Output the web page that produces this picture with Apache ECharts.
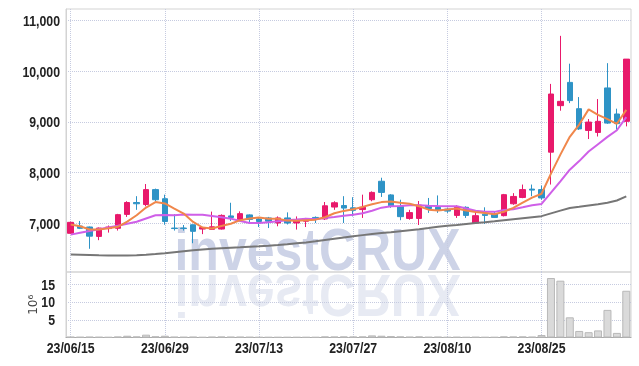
<!DOCTYPE html>
<html><head><meta charset="utf-8">
<script src="https://cdn.jsdelivr.net/npm/echarts@6/dist/echarts.min.js"></script>
<style>html,body{margin:0;padding:0;background:#fff}#c{width:639px;height:366px}</style>
</head><body><div id="c"></div>
<script>
const dates = ['23/06/15','23/06/16','23/06/19','23/06/20','23/06/21','23/06/22','23/06/23','23/06/26','23/06/27','23/06/28',
'23/06/29','23/06/30','23/07/03','23/07/04','23/07/05','23/07/06','23/07/07','23/07/10','23/07/11','23/07/12',
'23/07/13','23/07/14','23/07/17','23/07/18','23/07/19','23/07/20','23/07/21','23/07/24','23/07/25','23/07/26',
'23/07/27','23/07/28','23/07/31','23/08/01','23/08/02','23/08/03','23/08/04','23/08/07','23/08/08','23/08/09',
'23/08/10','23/08/11','23/08/14','23/08/16','23/08/17','23/08/18','23/08/21','23/08/22','23/08/23','23/08/24',
'23/08/25','23/08/28','23/08/29','23/08/30','23/08/31','23/09/01','23/09/04','23/09/05','23/09/06','23/09/07'];
// [open, close, low, high]
const ohlc = [
[6796,7013,6785,7025],[6940,6895,6880,7040],[6921,6740,6490,6930],[6735,6900,6660,6910],[6890,6920,6810,6950],
[6895,7165,6850,7180],[7170,7405,7120,7430],[7405,7380,7260,7530],[7365,7660,7330,7770],[7660,7460,7430,7680],
[7480,7030,6965,7560],[6900,6890,6850,7175],[6900,6890,6850,6960],[6965,6835,6600,6970],[6880,6910,6780,6920],
[6875,6925,6865,7225],[6880,7150,6870,7170],[7140,7110,7040,7400],[7070,7185,7060,7230],[7160,7070,7020,7170],
[7080,7030,6920,7100],[7100,7035,6900,7120],[7000,7100,6935,7130],[7100,7000,6970,7210],[7000,7065,6870,7130],
[7035,7080,6920,7100],[7110,7085,7000,7130],[7080,7340,7060,7415],[7315,7400,7260,7430],[7345,7295,7000,7530],
[7300,7250,7130,7510],[7265,7310,7100,7560],[7460,7605,7430,7625],[7825,7605,7515,7895],[7555,7340,7300,7570],
[7330,7125,7055,7460],[7090,7205,7065,7260],[7090,7355,6960,7435],[7345,7285,7200,7495],[7310,7255,7200,7545],
[7275,7235,7200,7300],[7150,7310,7100,7350],[7310,7150,7100,7330],[7000,7145,6995,7200],[7175,7150,6980,7310],
[7180,7110,7100,7230],[7145,7560,7130,7575],[7380,7525,7360,7590],[7505,7660,7490,7760],[7670,7650,7530,7760],
[7660,7495,7460,7740],[8400,9550,7760,9750],[9320,9405,9220,10700],[9780,9420,9370,10150],[9260,8860,8840,9490],
[8830,8995,8660,9055],[8790,9010,8710,9450],[9670,8975,8960,10160],[9155,8965,8845,9260],[9010,10240,8910,10240]];
const ma5 = [6970,6935,6870,6870,6894,6924,7026,7154,7306,7414,7387,7284,7186,7021,6911,6890,6942,6986,7056,7088,
7109,7086,7084,7047,7046,7056,7066,7114,7193,7239,7273,7318,7371,7413,7423,7399,7379,7330,7264,7247,
7267,7287,7245,7219,7197,7173,7223,7298,7401,7501,7578,7976,8352,8704,8946,9246,9138,9052,8961,9237];
const ma10 = [6770,6805,6840,6875,6910,6945,6985,7025,7090,7154,7156,7155,7170,7164,7163,7139,7113,7086,7039,7000,
7000,7014,7035,7052,7067,7083,7076,7099,7120,7143,7165,7192,7243,7303,7331,7336,7349,7351,7339,7335,
7333,7333,7288,7242,7222,7220,7255,7272,7310,7349,7376,7600,7825,8053,8224,8412,8557,8702,8833,9092];
const maLong = [6375,6370,6365,6360,6357,6355,6357,6362,6372,6385,6400,6420,6440,6460,6478,6492,6502,6512,6520,6530,
6540,6552,6565,6580,6598,6616,6640,6665,6690,6715,6740,6760,6780,6800,6818,6838,6858,6878,6900,6925,
6945,6962,6980,6998,7016,7035,7055,7075,7095,7115,7135,7190,7245,7296,7320,7345,7370,7400,7445,7526];
// volume in millions
const volumes = [0.2,0.15,0.2,0.15,0.1,0.25,0.5,0.3,0.8,0.35,0.5,0.2,0.15,0.2,0.1,0.2,0.25,0.2,0.2,0.15,
0.1,0.1,0.1,0.1,0.1,0.1,0.1,0.3,0.25,0.3,0.25,0.3,0.6,0.5,0.4,0.3,0.2,0.3,0.15,0.2,
0.1,0.15,0.1,0.15,0.1,0.1,0.3,0.25,0.3,0.2,0.7,16.8,16.05,5.7,1.85,1.5,2.0,7.8,1.3,13.2];
const priceTicks = [7000,8000,9000,10000,11000];
const volumeTicks = [5,10,15];
const dateLabelEvery = 10;

const FONT = '"Liberation Sans", Arial, sans-serif';
const LABEL_FONT = 'bold 15px ' + FONT;
const NARROW = 0.82;
const RED = '#e8196b', BLUE = '#2e93c6';
const grid = '#d3d3d3', dotted = '#c6cbe0';

const chart = echarts.init(document.getElementById('c'), null, {renderer: 'canvas'});
chart.setOption({
  animation: false,
  backgroundColor: '#fff',
  grid: [
    {left: 66, right: 8, top: 9, height: 263, show: true, borderColor: grid, borderWidth: 1},
    {left: 66, right: 8, top: 272, height: 65.5, show: true, borderColor: grid, borderWidth: 1}
  ],
  xAxis: [
    {type: 'category', gridIndex: 0, data: dates, boundaryGap: true,
     axisLine: {show: false}, axisTick: {show: false}, axisLabel: {show: false},
     splitLine: {show: true, interval: dateLabelEvery - 1, alignWithLabel: true, lineStyle: {type: 'dotted', color: dotted}}},
    {type: 'category', gridIndex: 1, data: dates, boundaryGap: true,
     axisLine: {show: true, lineStyle: {color: '#aaa'}}, axisTick: {show: false},
     axisLabel: {show: false},
     splitLine: {show: true, interval: dateLabelEvery - 1, alignWithLabel: true, lineStyle: {type: 'dotted', color: dotted}}}
  ],
  yAxis: [
    {type: 'value', gridIndex: 0, min: 6031, max: 11231, scale: true,
     axisLine: {show: true, lineStyle: {color: grid}},
     axisTick: {show: false, customValues: priceTicks},
     axisLabel: {show: false, customValues: priceTicks},
     splitLine: {show: true, lineStyle: {type: 'dotted', color: dotted}}},
    {type: 'value', gridIndex: 1, min: 0, max: 18.5,
     name: '10\u2076', nameLocation: 'middle', nameRotate: 90, nameGap: 26, nameMoveOverlap: false,
     nameTextStyle: {fontFamily: 'DejaVu Sans', fontSize: 12, color: '#444'},
     axisLine: {show: true, lineStyle: {color: grid}},
     axisTick: {show: false, customValues: volumeTicks},
     axisLabel: {show: false, customValues: volumeTicks},
     splitLine: {show: true, lineStyle: {type: 'dotted', color: dotted}}}
  ],
  series: [
    {type: 'candlestick', xAxisIndex: 0, yAxisIndex: 0, data: ohlc, barWidth: 6, z: 2,
     itemStyle: {color: RED, color0: BLUE, borderColor: RED, borderColor0: BLUE, borderWidth: 1}},
    {type: 'line', xAxisIndex: 0, yAxisIndex: 0, data: maLong, showSymbol: false, z: 3,
     lineStyle: {color: '#767676', width: 2}},
    {type: 'line', xAxisIndex: 0, yAxisIndex: 0, data: ma10, showSymbol: false, z: 3,
     lineStyle: {color: '#cf5fe8', width: 2}},
    {type: 'line', xAxisIndex: 0, yAxisIndex: 0, data: ma5, showSymbol: false, z: 4,
     lineStyle: {color: '#f0874b', width: 2}},
    {type: 'bar', xAxisIndex: 1, yAxisIndex: 1, data: volumes, barWidth: 8,
     itemStyle: {color: '#dadada', borderColor: '#b8b8b8', borderWidth: 1}}
  ]
});

// Labels in a condensed face, placed through the axes' own scales
const gridRect = chart.getModel().getComponent('grid', 0).coordinateSystem.getRect();
const wmX = gridRect.x + gridRect.width / 2 - 31;
const wmY = gridRect.y + gridRect.height;
const graphics = [
  {type: 'text', x: wmX, y: wmY, scaleX: 0.833, z: -1, silent: true,
   style: {text: 'investCRUX', x: 0, y: -18.6, font: 'bold 60px ' + FONT, fill: '#cdd3e7', align: 'center', verticalAlign: 'middle'}},
  {type: 'text', x: wmX, y: wmY + 1, scaleX: 0.833, scaleY: -1, z: -1, silent: true,
   style: {text: 'investCRUX', x: 0, y: -18.6, font: 'bold 60px ' + FONT, fill: '#e7eaf3', align: 'center', verticalAlign: 'middle'}}
];
const axisLeft = gridRect.x;
priceTicks.forEach(v => {
  const y = chart.convertToPixel({yAxisIndex: 0}, v);
  graphics.push({type: 'text', x: axisLeft - 6, y: y + 1.5, scaleX: NARROW, silent: true,
    style: {text: v.toLocaleString('en-US'), font: LABEL_FONT, fill: '#222', align: 'right', verticalAlign: 'middle'}});
});
volumeTicks.forEach(v => {
  const y = chart.convertToPixel({yAxisIndex: 1}, v);
  graphics.push({type: 'text', x: axisLeft - 11, y: y + 1, scaleX: NARROW, silent: true,
    style: {text: String(v), font: LABEL_FONT, fill: '#222', align: 'right', verticalAlign: 'middle'}});
});
const volRect = chart.getModel().getComponent('grid', 1).coordinateSystem.getRect();
dates.forEach((d, i) => {
  if (i % dateLabelEvery !== 0) return;
  const x = chart.convertToPixel({xAxisIndex: 1}, d);
  graphics.push({type: 'text', x: x, y: volRect.y + volRect.height + 11, scaleX: NARROW, silent: true,
    style: {text: d, font: LABEL_FONT, fill: '#222', align: 'center', verticalAlign: 'middle'}});
});
chart.setOption({graphic: graphics});
</script></body></html>
